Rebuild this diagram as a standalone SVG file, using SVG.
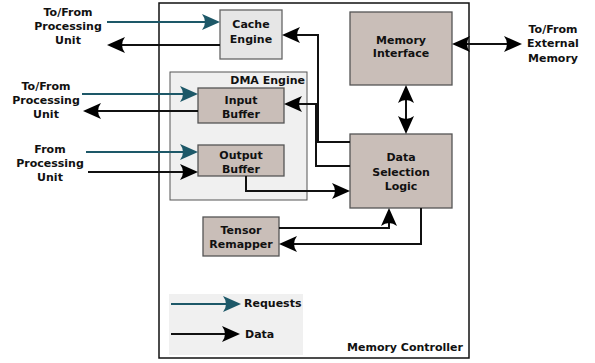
<svg xmlns="http://www.w3.org/2000/svg" width="595" height="363" viewBox="0 0 595 363">
<style>
  text { font-family: "DejaVu Sans", Verdana, sans-serif; font-weight: bold; font-size: 11px; fill: #111; }
  .c { text-anchor: middle; }
  .r { text-anchor: end; }
  .box { fill: #c9beb8; stroke: #555; stroke-width: 1.3; }
  .light { fill: #e6e6e6; stroke: #666; stroke-width: 1.3; }
  .grp { fill: #f0f0f0; stroke: #555; stroke-width: 1; }
  .data { fill: none; stroke: #111; stroke-width: 2; }
  .req { fill: none; stroke: #1d5868; stroke-width: 2; }
</style>
<defs>
  <marker id="ab" viewBox="-20 -9 22 18" refX="-4" refY="0" markerWidth="22" markerHeight="18" markerUnits="userSpaceOnUse" orient="auto-start-reverse">
    <path d="M0,0 L-18,-8 Q-12,0 -18,8 Z" fill="#000"/>
  </marker>
  <marker id="at" viewBox="-20 -9 22 18" refX="-4" refY="0" markerWidth="22" markerHeight="18" markerUnits="userSpaceOnUse" orient="auto">
    <path d="M0,0 L-18,-8 Q-12,0 -18,8 Z" fill="#1d5868"/>
  </marker>
</defs>

<g id="memory-controller">
  <rect x="159" y="3" width="310" height="355" fill="#fff" stroke="#111" stroke-width="1.5"/>
  <text class="r" x="463" y="351">Memory Controller</text>
</g>

<g id="dma-engine">
  <rect class="grp" x="170" y="72" width="137" height="128"/>
  <text class="r" x="305" y="84">DMA Engine</text>
</g>

<g id="legend">
  <rect x="169" y="294" width="134" height="61" fill="#f0f0f0"/>
  <path class="req" d="M171,304 H237" marker-end="url(#at)"/>
  <text x="244" y="307">Requests</text>
  <path class="data" d="M171,334 H236" marker-end="url(#ab)"/>
  <text x="245" y="338">Data</text>
</g>

<g id="cache-engine">
  <rect class="light" x="220" y="10" width="62" height="49"/>
  <text class="c" x="251" y="28">Cache</text>
  <text class="c" x="251" y="43">Engine</text>
</g>

<g id="input-buffer">
  <rect class="box" x="198" y="88" width="86" height="35"/>
  <text class="c" x="241" y="104">Input</text>
  <text class="c" x="241" y="118">Buffer</text>
</g>

<g id="output-buffer">
  <rect class="box" x="198" y="145" width="86" height="31"/>
  <text class="c" x="241" y="159">Output</text>
  <text class="c" x="241" y="173">Buffer</text>
</g>

<g id="memory-interface">
  <rect class="box" x="350" y="12" width="102" height="73"/>
  <text class="c" x="401" y="44">Memory</text>
  <text class="c" x="401" y="57">Interface</text>
</g>

<g id="data-selection-logic">
  <rect class="box" x="350" y="134" width="102" height="74"/>
  <text class="c" x="401" y="161">Data</text>
  <text class="c" x="401" y="176">Selection</text>
  <text class="c" x="401" y="190">Logic</text>
</g>

<g id="tensor-remapper">
  <rect class="box" x="203" y="217" width="76" height="39"/>
  <text class="c" x="241" y="234">Tensor</text>
  <text class="c" x="241" y="248">Remapper</text>
</g>

<g id="external-labels">
  <text class="c" x="68" y="16">To/From</text>
  <text class="c" x="68" y="30">Processing</text>
  <text class="c" x="68" y="44">Unit</text>
  <text class="c" x="46" y="90">To/From</text>
  <text class="c" x="46" y="104">Processing</text>
  <text class="c" x="46" y="118">Unit</text>
  <text class="c" x="50" y="153">From</text>
  <text class="c" x="50" y="167">Processing</text>
  <text class="c" x="50" y="181">Unit</text>
  <text class="c" x="553" y="33">To/From</text>
  <text class="c" x="553" y="47">External</text>
  <text class="c" x="553" y="62">Memory</text>
</g>

<g id="connectors">
  <path class="req" d="M107,22 H216" marker-end="url(#at)"/>
  <path class="data" d="M220,45 H111" marker-end="url(#ab)"/>
  <path class="req" d="M82,94 H194" marker-end="url(#at)"/>
  <path class="data" d="M198,111 H87" marker-end="url(#ab)"/>
  <path class="req" d="M86,152 H194" marker-end="url(#at)"/>
  <path class="data" d="M88,172 H194" marker-end="url(#ab)"/>
  <path class="data" d="M456,44 H518" marker-start="url(#ab)" marker-end="url(#ab)"/>
  <path class="data" d="M406,89 V130" marker-start="url(#ab)" marker-end="url(#ab)"/>
  <path class="data" d="M350,142 H318 V35 H286" marker-end="url(#ab)"/>
  <path class="data" d="M350,166 H316 V104 H288" marker-end="url(#ab)"/>
  <path class="data" d="M246,176 V191 H346" marker-end="url(#ab)"/>
  <path class="data" d="M279,228 H389 V212" marker-end="url(#ab)"/>
  <path class="data" d="M421,208 V244 H283" marker-end="url(#ab)"/>
</g>
</svg>
